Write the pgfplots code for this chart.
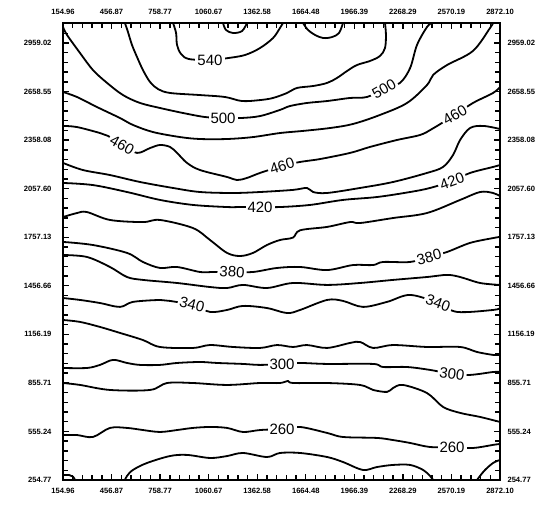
\documentclass[border=0pt]{standalone}
\usepackage{pgfplots}
\pgfplotsset{compat=1.18}
\usepackage{fontspec}
\setmainfont{Liberation Sans}
\begin{document}
\begin{tikzpicture}
\pgfplotsset{
  common/.style={
    at={(0,0)}, anchor=south west, scale only axis,
    width=437pt, height=457pt,
    xmin=154.96, xmax=2872.10, ymin=254.77, ymax=3083,
    xtick={154.96,456.865,758.77,1060.675,1362.58,1664.485,1966.39,2268.295,2570.2,2872.1},
    xticklabels={154.96,456.87,758.77,1060.67,1362.58,1664.48,1966.39,2268.29,2570.19,2872.10},
    ytick={254.77,555.2422,855.7144,1156.1866,1456.6588,1757.131,2057.6032,2358.0754,2658.5476,2959.0198},
    yticklabels={254.77,555.24,855.71,1156.19,1456.66,1757.13,2057.60,2358.08,2658.55,2959.02},
    minor xtick={154.96,215.341,...,2872.2},
    minor ytick={254.77,314.86444,...,3083},
    tick align=inside,
    major tick length=6pt, minor tick length=5pt,
    ticklabel style={font=\fontsize{7.6}{8}\selectfont\bfseries},
  },
  cl/.style={black, line width=1.8pt, smooth, tension=0.55, line join=round, line cap=round},
}
\begin{axis}[common,
    axis line style={line width=1.9pt},
    tick style={line width=1.4pt, black},
    xticklabel style={yshift=-4.5pt},
    yticklabel style={xshift=-8pt},
  ]
% 540
\addplot[cl] coordinates {(839,3083) (858,3021) (864,2947) (889,2891) (938,2860) (1069,2854) (1181,2866) (1287,2885) (1380,2928) (1461,2990) (1504,3052) (1523,3083)};
\addplot[cl] coordinates {(1150,3083) (1168,3040) (1212,3021) (1268,3033) (1299,3083)};
\addplot[cl] coordinates {(1647,3083) (1678,3040) (1722,3009) (1772,2990) (1828,2996) (1871,3021) (1896,3083)};
% 520
\addplot[cl] coordinates {(540,3083) (559,3027) (584,2947) (615,2873) (652,2792) (696,2718) (746,2674) (820,2650) (1007,2637) (1162,2625) (1268,2600) (1380,2606) (1461,2619) (1548,2650) (1610,2681) (1710,2693) (1797,2712) (1859,2743) (1921,2786) (1983,2823) (2064,2848) (2126,2879) (2157,2928) (2163,3009) (2157,3083)};
% 500
\addplot[cl] coordinates {(155,3058) (180,3009) (261,2897) (341,2792) (429,2712) (528,2637) (634,2588) (758,2557) (901,2526) (1038,2501) (1150,2495) (1262,2495) (1380,2507) (1504,2545) (1566,2569) (1672,2588) (1797,2600) (1940,2619) (2045,2625) (2151,2674) (2250,2712) (2313,2804) (2356,2947) (2418,3058) (2449,3083)};
% 480
\addplot[cl] coordinates {(155,2656) (242,2625) (366,2563) (509,2495) (590,2452) (715,2408) (883,2377) (1007,2365) (1175,2365) (1336,2377) (1504,2402) (1647,2415) (1815,2433) (1958,2458) (2126,2514) (2294,2588) (2418,2699) (2456,2761) (2543,2823) (2704,2910) (2810,3052) (2829,3083)};
% 460
\addplot[cl] coordinates {(155,2446) (242,2439) (385,2402) (435,2384) (522,2328) (615,2279) (696,2309) (758,2328) (820,2316) (864,2279) (926,2217) (1007,2173) (1175,2130) (1237,2111) (1299,2124) (1380,2155) (1517,2198) (1629,2223) (1753,2241) (1940,2279) (2064,2316) (2232,2359) (2375,2390) (2449,2427) (2592,2514) (2704,2588) (2829,2650) (2872,2687)};
% 440
\addplot[cl] coordinates {(155,2217) (279,2173) (447,2142) (634,2099) (839,2062) (1007,2037) (1212,2031) (1380,2037) (1585,2050) (1672,2062) (1710,2037) (1797,2031) (2002,2062) (2207,2099) (2418,2155) (2518,2192) (2580,2266) (2624,2359) (2686,2433) (2767,2446) (2872,2427)};
% 420
\addplot[cl] coordinates {(155,2093) (341,2080) (553,2037) (758,1988) (963,1957) (1175,1944) (1256,1944) (1380,1944) (1504,1944) (1691,1957) (1896,1988) (2107,2006) (2313,2037) (2437,2062) (2574,2105) (2686,2155) (2829,2192) (2872,2204)};
% 400
\addplot[cl] coordinates {(155,1882) (242,1907) (304,1913) (447,1864) (652,1851) (758,1864) (963,1814) (1069,1740) (1175,1660) (1256,1641) (1336,1660) (1423,1709) (1504,1740) (1585,1755) (1629,1800) (1797,1821) (1940,1851) (2002,1845) (2207,1876) (2418,1907) (2624,1988) (2748,2037) (2829,2031) (2872,2012)};
% 380
\addplot[cl] coordinates {(155,1728) (341,1709) (553,1660) (652,1604) (758,1567) (864,1573) (1007,1542) (1088,1542) (1206,1542) (1336,1542) (1486,1567) (1629,1573) (1797,1554) (1958,1585) (2083,1585) (2145,1604) (2313,1604) (2431,1635) (2543,1666) (2686,1722) (2829,1752) (2872,1759)};
% 360
\addplot[cl] coordinates {(155,1647) (304,1635) (447,1573) (553,1511) (652,1493) (864,1474) (1069,1449) (1175,1443) (1274,1462) (1423,1443) (1585,1474) (1797,1462) (2002,1474) (2207,1493) (2418,1511) (2543,1524) (2624,1511) (2748,1474) (2872,1462)};
% 340
\addplot[cl] coordinates {(155,1381) (261,1369) (385,1350) (509,1326) (590,1357) (758,1369) (820,1363) (957,1338) (1069,1295) (1175,1307) (1274,1332) (1423,1319) (1548,1288) (1629,1307) (1797,1369) (1896,1363) (2020,1326) (2170,1357) (2313,1400) (2487,1350) (2605,1295) (2829,1307) (2872,1319)};
% 320
\addplot[cl] coordinates {(155,1245) (261,1233) (385,1202) (509,1165) (652,1121) (758,1078) (963,1072) (1069,1090) (1212,1078) (1380,1072) (1486,1090) (1585,1078) (1672,1090) (1797,1072) (1940,1103) (2002,1109) (2083,1072) (2207,1090) (2418,1078) (2624,1078) (2729,1047) (2829,1029) (2872,1029)};
% 300
\addplot[cl] coordinates {(155,948) (304,948) (385,967) (466,998) (553,979) (634,967) (758,967) (864,979) (1007,985) (1113,979) (1274,973) (1380,967) (1517,973) (1629,979) (1797,973) (2083,973) (2145,954) (2294,954) (2437,936) (2574,911) (2686,905) (2829,923) (2872,923)};
% 280
\addplot[cl] coordinates {(155,855) (261,843) (447,812) (696,812) (802,855) (963,855) (1175,843) (1380,855) (1504,855) (1554,868) (1585,855) (1797,855) (2002,843) (2083,812) (2170,800) (2207,824) (2269,843) (2418,793) (2518,707) (2624,670) (2748,645) (2872,614)};
% 260
\addplot[cl] coordinates {(155,533) (242,533) (341,521) (447,577) (553,577) (652,564) (758,552) (864,564) (963,577) (1069,583) (1175,577) (1274,552) (1380,564) (1517,571) (1629,583) (1797,546) (1896,521) (2107,515) (2207,502) (2313,484) (2437,459) (2574,459) (2704,453) (2829,472) (2872,478)};
% 240
\addplot[cl] coordinates {(540,254.77) (553,280) (590,317) (677,360) (820,403) (926,410) (1069,391) (1175,403) (1274,422) (1423,397) (1504,422) (1629,422) (1797,397) (1896,366) (2020,317) (2107,335) (2207,348) (2313,348) (2394,317) (2437,280) (2456,254.77)};
\addplot[cl] coordinates {(2729,254.77) (2748,280) (2779,317) (2829,360) (2872,379)};
\addplot[cl] coordinates {(155,286) (195,285) (218,275) (230,254.77)};
% labels
\tikzset{lab/.style={fill=white, inner sep=2pt, font=\fontsize{15}{15}\selectfont}}
\node[lab] at (axis cs:1069,2854) {540};
\node[lab] at (axis cs:1150,2495) {500};
\node[lab, rotate=30] at (axis cs:2151,2674) {500};
\node[lab, rotate=-30] at (axis cs:522,2328) {460};
\node[lab, rotate=18] at (axis cs:1517,2198) {460};
\node[lab, rotate=30] at (axis cs:2592,2514) {460};
\node[lab] at (axis cs:1380,1944) {420};
\node[lab, rotate=20] at (axis cs:2574,2105) {420};
\node[lab, rotate=-4] at (axis cs:1206,1542) {380};
\node[lab, rotate=15] at (axis cs:2431,1635) {380};
\node[lab, rotate=-14] at (axis cs:957,1338) {340};
\node[lab, rotate=-20] at (axis cs:2487,1350) {340};
\node[lab] at (axis cs:1517,973) {300};
\node[lab, rotate=-8] at (axis cs:2574,911) {300};
\node[lab] at (axis cs:1517,571) {260};
\node[lab] at (axis cs:2574,459) {260};
\end{axis}
\begin{axis}[common,
    axis line style={draw=none},
    tick style={draw=none},
    xticklabel pos=upper, yticklabel pos=right,
    xticklabel style={yshift=4.5pt},
    yticklabel style={xshift=4pt},
  ]
\addplot[draw=none] coordinates {(1000,1000)};
\end{axis}
\pgfresetboundingbox
\path (-63pt,-25pt) rectangle (485pt,480pt);
\end{tikzpicture}
\end{document}
